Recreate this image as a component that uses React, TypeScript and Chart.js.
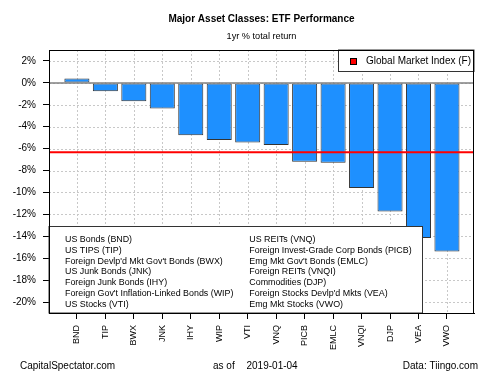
import React, { useEffect, useRef } from "react";
import { Chart, registerables } from "chart.js";

Chart.register(...registerables);

const categories = ["BND", "TIP", "BWX", "JNK", "IHY", "WIP", "VTI", "VNQ", "PICB", "EMLC", "VNQI", "DJP", "VEA", "VWO"];
const returns = [0.39, -0.76, -1.67, -2.34, -4.77, -5.22, -5.44, -5.68, -7.2, -7.29, -9.6, -11.73, -14.16, -15.38];
const gmiReturn = -6.32;
const yTickValues = [2, 0, -2, -4, -6, -8, -10, -12, -14, -16, -18, -20];
const legendLeft = [
  "US Bonds (BND)",
  "US TIPS (TIP)",
  "Foreign Devlp'd Mkt Gov't Bonds (BWX)",
  "US Junk Bonds (JNK)",
  "Foreign Junk Bonds (IHY)",
  "Foreign Gov't Inflation-Linked Bonds (WIP)",
  "US Stocks (VTI)",
];
const legendRight = [
  "US REITs (VNQ)",
  "Foreign Invest-Grade Corp Bonds (PICB)",
  "Emg Mkt Gov't Bonds (EMLC)",
  "Foreign REITs (VNQI)",
  "Commodities (DJP)",
  "Foreign Stocks Devlp'd Mkts (VEA)",
  "Emg Mkt Stocks (VWO)",
];
const titleText = "Major Asset Classes: ETF Performance";
const subtitleText = "1yr % total return";
const gmiLabel = "Global Market Index (F)";
const footLeft = "CapitalSpectator.com";
const footMid = "as of";
const footDate = "2019-01-04";
const footRight = "Data: Tiingo.com";

const FONT = "'Liberation Sans', Arial, sans-serif";

export default function App() {
  const ref = useRef<HTMLCanvasElement | null>(null);

  useEffect(() => {
    document.body.style.margin = "0";
    const canvas = ref.current;
    if (!canvas) return;

    const drawPlugin = {
      id: "rStyle",
      beforeDatasetsDraw(chart: any) {
        const ctx = chart.ctx;
        const { left, right, top, bottom } = chart.chartArea;
        const xs = chart.scales.x;
        const ys = chart.scales.y;
        ctx.save();
        ctx.strokeStyle = "#c8c8c8";
        ctx.lineWidth = 1;
        ctx.setLineDash([2, 2]);
        yTickValues.forEach((v) => {
          const y = Math.round(ys.getPixelForValue(v)) + 0.5;
          ctx.beginPath();
          ctx.moveTo(left, y);
          ctx.lineTo(right, y);
          ctx.stroke();
        });
        categories.forEach((_, i) => {
          const x = Math.round(xs.getPixelForValue(i)) + 0.5;
          ctx.beginPath();
          ctx.moveTo(x, top);
          ctx.lineTo(x, bottom);
          ctx.stroke();
        });
        ctx.restore();
      },
      afterDatasetsDraw(chart: any) {
        const ctx = chart.ctx;
        const { left, right, top, bottom } = chart.chartArea;
        const ys = chart.scales.y;
        ctx.save();
        // zero line
        const y0 = ys.getPixelForValue(0);
        ctx.strokeStyle = "#808080";
        ctx.lineWidth = 1.5;
        ctx.beginPath();
        ctx.moveTo(left, y0);
        ctx.lineTo(right, y0);
        ctx.stroke();
        // GMI line
        const yg = ys.getPixelForValue(gmiReturn);
        ctx.strokeStyle = "#ff0000";
        ctx.lineWidth = 2;
        ctx.beginPath();
        ctx.moveTo(left, yg);
        ctx.lineTo(right, yg);
        ctx.stroke();

        // top-right legend
        ctx.fillStyle = "#ffffff";
        ctx.strokeStyle = "#333333";
        ctx.lineWidth = 1;
        const lx0 = 338.5, ly0 = top, lx1 = right, ly1 = 71.5;
        ctx.fillRect(lx0, ly0, lx1 - lx0, ly1 - ly0);
        ctx.strokeRect(lx0, ly0, lx1 - lx0, ly1 - ly0);
        ctx.fillStyle = "#ff0000";
        ctx.fillRect(350.5, 58.5, 6, 6);
        ctx.strokeStyle = "#000000";
        ctx.strokeRect(350.5, 58.5, 6, 6);
        ctx.fillStyle = "#000000";
        ctx.font = `10px ${FONT}`;
        ctx.textBaseline = "middle";
        ctx.textAlign = "left";
        ctx.fillText(gmiLabel, 366, 61.5);

        // bottom legend
        const bx0 = left, by0 = 226.5, bx1 = 422.5, by1 = bottom;
        ctx.fillStyle = "#ffffff";
        ctx.fillRect(bx0, by0, bx1 - bx0, by1 - by0);
        ctx.strokeStyle = "#333333";
        ctx.strokeRect(bx0, by0, bx1 - bx0, by1 - by0);
        ctx.fillStyle = "#000000";
        ctx.font = `8.9px ${FONT}`;
        legendLeft.forEach((t, i) => ctx.fillText(t, 65, 239.5 + i * 10.83));
        legendRight.forEach((t, i) => ctx.fillText(t, 249.3, 239.5 + i * 10.83));

        // plot box
        ctx.strokeStyle = "#000000";
        ctx.lineWidth = 1;
        ctx.strokeRect(left + 0.5, top + 0.5, right - left - 1, bottom - top);
        ctx.restore();
      },
      afterDraw(chart: any) {
        const ctx = chart.ctx;
        const { left, right } = chart.chartArea;
        const cx = (left + right) / 2;
        ctx.save();
        ctx.fillStyle = "#000000";
        ctx.textBaseline = "middle";
        ctx.textAlign = "center";
        ctx.font = `bold 10px ${FONT}`;
        ctx.fillText(titleText, cx, 19.5);
        ctx.font = `9.2px ${FONT}`;
        ctx.fillText(subtitleText, cx, 36.5);
        ctx.font = `10px ${FONT}`;
        ctx.textAlign = "left";
        ctx.fillText(footLeft, 20, 366.5);
        ctx.fillText(footMid, 213, 366.5);
        ctx.fillText(footDate, 246.5, 366.5);
        ctx.textAlign = "right";
        ctx.fillText(footRight, 478, 366.5);
        ctx.restore();
      },
    };

    const chart = new Chart(canvas, {
      type: "bar",
      data: {
        datasets: [
          {
            data: categories.map((_, i) => ({ x: i, y: returns[i] })),
            backgroundColor: "#1E90FF",
            borderColor: "#333333",
            borderWidth: 1,
            borderSkipped: false,
            barPercentage: 0.88,
            categoryPercentage: 1,
          },
        ],
      },
      options: {
        animation: false,
        responsive: false,
        maintainAspectRatio: false,
        layout: { padding: { left: 0, top: 50, right: 26, bottom: 0 } },
        plugins: { legend: { display: false }, tooltip: { enabled: false }, title: { display: false } },
        scales: {
          x: {
            type: "linear",
            offset: false,
            min: -0.98,
            max: 13.95,
            afterBuildTicks: (scale: any) => {
              scale.ticks = categories.map((_, i) => ({ value: i }));
            },
            afterFit: (scale: any) => {
              scale.height = 62;
              scale.paddingLeft = 0;
              scale.paddingRight = 0;
            },
            grid: { offset: false, color: "transparent", tickColor: "#000000", tickLength: 6, drawOnChartArea: false },
            border: { display: true, color: "#000000", width: 1 },
            ticks: {
              autoSkip: false,
              minRotation: 90,
              maxRotation: 90,
              padding: 6,
              color: "#000000",
              font: { family: FONT, size: 9 },
              callback: (v: any) => categories[v] ?? "",
            },
          },
          y: {
            min: -21,
            max: 3,
            afterBuildTicks: (scale: any) => {
              scale.ticks = yTickValues.map((v) => ({ value: v }));
            },
            afterFit: (scale: any) => {
              scale.width = 49;
            },
            grid: { color: "transparent", tickColor: "#000000", tickLength: 6, drawOnChartArea: false },
            border: { display: true, color: "#000000", width: 1 },
            ticks: {
              padding: 7,
              color: "#000000",
              font: { family: FONT, size: 10 },
              callback: (v: any) => `${v}%`,
            },
          },
        },
      },
      plugins: [drawPlugin],
    } as any);

    return () => chart.destroy();
  }, []);

  return (
    <div style={{ width: 500, height: 375, background: "#ffffff" }}>
      <canvas ref={ref} width={500} height={375} />
    </div>
  );
}
